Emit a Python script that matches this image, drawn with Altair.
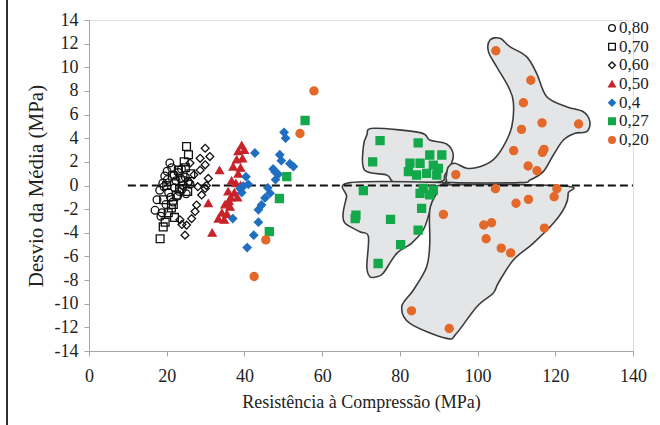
import altair as alt
import pandas as pd

# ---------------- data ----------------
series_names = ["0,80", "0,70", "0,60", "0,50", "0,4", "0,27", "0,20"]

x80 = [17.5, 18.2, 19.0, 19.5, 20.1, 20.8, 21.3, 21.9, 22.4, 23.0, 23.6, 24.2, 24.8, 25.5, 20.5,
       21.0, 22.0, 23.2, 18.8, 19.8, 17.0, 18.5, 21.6, 22.8, 24.0, 25.0, 26.0, 20.2, 19.3, 23.8]
y80 = [-1.2, -0.4, 0.2, 0.8, 1.2, 1.9, 1.5, 0.9, 0.4, 1.1, 0.6, 0.0, 0.7, 0.3, -0.6,
       -1.0, -0.2, -0.5, -2.3, -1.6, -2.1, -2.6, -1.4, -0.9, -0.3, -0.7, 0.1, 0.5, -0.1, 1.4]

x70 = [18.3, 19.1, 19.6, 20.4, 21.2, 21.7, 22.5, 23.3, 24.0, 24.8, 25.1, 25.6, 20.0, 21.5, 23.0,
       22.0, 24.5, 19.2, 26.2, 25.4]
y70 = [-4.5, -3.5, -3.1, -2.3, -1.9, -1.6, -0.8, -0.3, 0.4, 1.5, 3.3, 2.6, 0.0, 0.8, 1.3,
       -2.7, 2.0, -1.2, 1.0, -0.5]

x60 = [29.9, 31.1, 28.6, 29.9, 28.6, 30.7, 29.9, 29.0, 27.7, 27.3, 26.4, 25.1, 24.7, 23.4, 23.9,
       27.0, 26.0, 28.0, 25.8, 30.2]
y60 = [3.15, 2.45, 2.3, 1.75, 1.3, 0.6, -0.25, -0.8, -1.65, -2.2, -2.8, -3.35, -4.2, -2.9, -3.3,
       0.9, 1.9, -0.1, 0.3, 0.0]

x50 = [39.3, 40.0, 38.4, 39.5, 38.0, 37.1, 39.0, 33.6, 38.4, 36.7, 37.8, 39.0, 35.8, 37.4, 36.5,
       38.2, 35.0, 30.7, 36.3, 34.2, 35.5, 33.3, 34.8, 31.7, 36.0]
y50 = [3.4, 3.0, 2.9, 2.3, 2.2, 1.6, 1.5, 1.3, 1.0, 0.4, 0.2, 0.0, -0.5, -0.6, -1.0,
       -1.0, -1.6, -1.5, -1.8, -2.3, -2.4, -2.8, -2.9, -4.0, -1.3]

x4 = [50.2, 42.7, 49.1, 49.5, 51.7, 52.6, 47.4, 47.9, 48.7, 40.4, 39.7, 39.3, 46.6, 45.3, 44.4,
      43.6, 37.0, 43.6, 42.4, 40.7, 50.6, 48.0, 46.0, 41.0, 38.9]
y4 = [4.5, 2.75, 2.6, 2.1, 1.85, 1.6, 1.4, 1.15, 0.95, 0.75, -0.05, -0.6, -0.65, -1.05, -1.65,
      -2.05, -2.8, -3.1, -4.2, -5.25, 4.0, 0.5, -0.2, 0.1, -0.25]

x27 = [55.6, 50.9, 49.0, 46.4, 74.9, 84.7, 73.0, 82.6, 82.2, 85.2, 87.7, 88.6, 90.8, 89.9, 86.9,
       84.3, 89.5, 86.0, 88.6, 85.2, 87.7, 70.6, 68.7, 68.5, 77.6, 85.6, 84.7, 80.2, 74.4]
y27 = [5.5, 0.75, -1.1, -3.9, 3.8, 3.6, 2.0, 1.9, 1.17, 1.88, 2.58, 1.73, 2.58, 1.45, 1.03,
       0.89, 0.89, -0.24, -0.38, -0.66, -0.8, -0.44, -2.5, -2.8, -2.86, -1.93, -3.77, -5.0, -6.6]

x20 = [57.9, 54.3, 45.5, 42.5, 104.7, 113.7, 111.8, 116.6, 111.3, 126.0, 109.3, 117.1, 116.7, 113.0,
       115.3, 94.4, 104.6, 120.4, 119.7, 113.1, 109.9, 91.2, 103.6, 101.6, 117.2, 102.2, 106.1,
       108.5, 83.0, 92.7]
y20 = [8.0, 4.4, -4.6, -7.7, 11.4, 8.9, 7.0, 5.3, 4.75, 5.2, 2.95, 3.06, 2.8, 1.65,
       1.25, 0.92, -0.27, -0.27, -0.95, -1.17, -1.5, -2.44, -3.15, -3.34, -3.6, -4.5, -5.3,
       -5.7, -10.6, -12.1]

# hull outlines (data units)
hull_green_up_x = [71.5, 73.2, 85.2, 87.7, 92.0, 93.7, 93.3, 91.6, 90.3, 80.0, 77.9, 76.6, 70.9, 70.6]
hull_green_up_y = [4.27, 4.84, 4.47, 3.85, 3.51, 2.72, 1.88, 0.89, 0.32, 0.24, 0.41, 0.89, 1.31, 3.28]

hull_green_lo_x = [67.2, 91.2, 90.8, 88.6, 87.3, 86.0, 83.0, 79.2, 75.7, 74.0, 72.3, 71.5, 71.9,
                   69.7, 65.9, 65.4, 66.3]
hull_green_lo_y = [0.24, 0.24, 0.04, -1.23, -2.64, -3.77, -4.89, -5.74, -7.43, -7.72, -7.72, -6.87,
                   -4.33, -3.91, -3.2, -2.35, -0.95]

hull_orange_up_x = [92.0, 92.5, 94.2, 97.2, 100.6, 104.0, 106.6, 108.8, 109.2, 107.9, 104.9, 102.8,
                    103.2, 105.8, 108.3, 112.6, 115.2, 117.8, 122.9, 127.2, 128.9, 128.1, 125.1,
                    122.1, 119.5, 116.9, 113.5, 110.9, 93.7, 92.0]
hull_orange_up_y = [0.89, 1.59, 1.88, 1.46, 1.59, 2.16, 3.28, 4.97, 7.09, 8.36, 10.05, 11.32,
                    12.31, 12.45, 11.74, 10.9, 9.49, 7.51, 6.67, 6.24, 5.4, 4.55, 4.42,
                    3.85, 2.58, 1.17, 0.47, 0.24, 0.24, 0.47]

hull_orange_lo_x = [91.6, 122.1, 123.3, 122.5, 119.5, 114.3, 109.2, 105.3, 104.0, 99.8, 94.6, 92.0,
                    82.6, 80.5, 83.5, 86.9, 87.7, 87.7, 89.5]
hull_orange_lo_y = [0.04, -0.04, -0.66, -1.79, -3.2, -4.89, -6.3, -8.27, -9.12, -10.25, -12.5,
                    -12.93, -11.66, -10.25, -8.84, -6.87, -4.89, -2.07, -0.66]

zero_x = [10, 140]
zero_y = [0, 0]

# ---------------- tables ----------------
pts = []
for name, xs, ys in zip(series_names, [x80, x70, x60, x50, x4, x27, x20],
                        [y80, y70, y60, y50, y4, y27, y20]):
    for a, b in zip(xs, ys):
        pts.append({"series": name, "x": a, "y": b})
pts = pd.DataFrame(pts)

hulls = []
for k, (hx, hy) in enumerate([(hull_green_up_x, hull_green_up_y), (hull_green_lo_x, hull_green_lo_y),
                              (hull_orange_up_x, hull_orange_up_y), (hull_orange_lo_x, hull_orange_lo_y)]):
    for i, (a, b) in enumerate(zip(hx, hy)):
        hulls.append({"poly": k, "order": i, "x": a, "y": b})
hulls = pd.DataFrame(hulls)

zero = pd.DataFrame({"x": zero_x, "y": zero_y})
leg = pd.DataFrame({"series": series_names})

FONT = "Liberation Serif"
AXC = "#a6a6a6"
TXT = "#222"

xscale = alt.Scale(domain=[0, 140], nice=False, zero=False)
yscale = alt.Scale(domain=[-14, 14], nice=False, zero=False)

xaxis = alt.Axis(values=list(range(0, 141, 20)), grid=False, title="Resistência à Compressão (MPa)",
                 domainColor=AXC, tickColor=AXC, tickSize=5, labelPadding=11, labelFlush=False,
                 labelFont=FONT, labelFontSize=18, labelColor=TXT, labelOverlap=False,
                 titleFont=FONT, titleFontSize=18, titleFontWeight="normal", titleColor=TXT,
                 titlePadding=8)
yaxis = alt.Axis(values=list(range(-14, 15, 2)), grid=False, title="Desvio da Média (MPa)",
                 domainColor=AXC, tickColor=AXC, tickSize=5, labelPadding=6, labelFlush=False,
                 labelFont=FONT, labelFontSize=18, labelColor=TXT, labelOverlap=False,
                 labelExpr="'' + datum.value",
                 titleFont=FONT, titleFontSize=21, titleFontWeight="normal", titleColor=TXT,
                 titlePadding=8)


def X():
    return alt.X("x:Q", scale=xscale, axis=xaxis)


hull_layer = alt.Chart(hulls).mark_line(
    interpolate="cardinal-closed", fill="#e4e5e6", stroke="#3c3c3c", strokeWidth=1.6
).encode(
    x=X(), y=alt.Y("y:Q", scale=yscale, axis=None),
    detail="poly:N", order="order:Q"
)

zero_layer = alt.Chart(zero).mark_line(color="#111", strokeDash=[8, 4], strokeWidth=1.8).encode(
    x=X(), y=alt.Y("y:Q", scale=yscale, axis=yaxis)
)

shapes = ["circle", "square", "diamond", "triangle-up", "diamond", "square", "circle"]
fills = ["transparent", "transparent", "transparent", "#c8232b", "#1f6fc1", "#13a84a", "#e3692a"]
strokes = ["#111", "#111", "#111", "#c8232b", "#1f6fc1", "#13a84a", "#e3692a"]
sizes = [60, 65, 45, 140, 105, 130, 155]

shape_sc = alt.Scale(domain=series_names, range=shapes)
fill_sc = alt.Scale(domain=series_names, range=fills)
stroke_sc = alt.Scale(domain=series_names, range=strokes)

point_layer = alt.Chart(pts).mark_point(opacity=1, strokeWidth=1.3).encode(
    x=X(), y=alt.Y("y:Q", scale=yscale, axis=None),
    shape=alt.Shape("series:N", scale=shape_sc, legend=None),
    fill=alt.Fill("series:N", scale=fill_sc, legend=None),
    stroke=alt.Stroke("series:N", scale=stroke_sc, legend=None),
    size=alt.Size("series:N", scale=alt.Scale(domain=series_names, range=sizes), legend=None),
)

# legend (symbol + label), placed by its own point scale
leg_y = alt.Y("series:N", scale=alt.Scale(type="point", domain=series_names, range=[8, 120], padding=0),
              axis=None)
leg_sym = alt.Chart(leg).mark_point(opacity=1, strokeWidth=1.3, size=45).encode(
    x=alt.value(523), y=leg_y,
    shape=alt.Shape("series:N", scale=shape_sc, legend=None),
    fill=alt.Fill("series:N", scale=fill_sc, legend=None),
    stroke=alt.Stroke("series:N", scale=stroke_sc, legend=None),
)
leg_txt = alt.Chart(leg).mark_text(align="left", baseline="middle", font=FONT, fontSize=17,
                                   color=TXT).encode(
    x=alt.value(530), y=leg_y, text="series:N"
)
legend_layer = alt.layer(leg_sym, leg_txt)

frame = alt.Chart(zero).mark_rule(color="#222", strokeWidth=1.5).encode(
    x=alt.value(-82), y=alt.value(-20), y2=alt.value(405)
)

chart = alt.layer(hull_layer, zero_layer, point_layer, frame, legend_layer).resolve_scale(
    y="independent"
).properties(
    width=544, height=331,
    autosize=alt.AutoSizeParams(type="none"),
    padding={"left": 89, "top": 20, "right": 27, "bottom": 74},
).configure_view(stroke=None).configure(background="white")

chart.save("out.html", embed_options={"renderer": "svg", "actions": False})
